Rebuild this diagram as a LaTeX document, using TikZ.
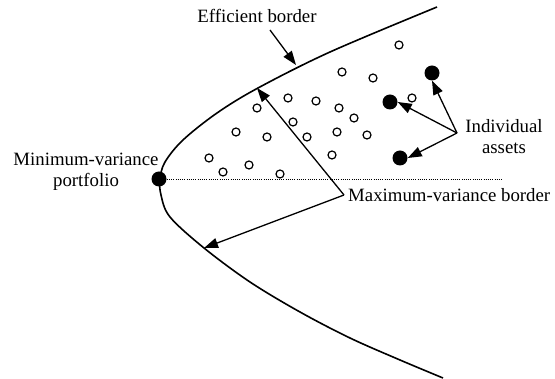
\documentclass[tikz,border=0pt]{standalone}
\usepackage{fontspec}
\setmainfont{Liberation Serif}
\usetikzlibrary{arrows.meta}
\begin{document}
\begin{tikzpicture}[x=1pt,y=-1pt,
  lbl/.style={font=\fontsize{18.8}{21}\selectfont, align=center, inner sep=0pt},
  frontier/.style={line width=1.6pt},
  ptr/.style={line width=1.3pt, -{Triangle[length=14pt,width=10pt]}},
  asset/.style={circle, fill=black, inner sep=0pt, minimum size=15pt},
  smallpt/.style={circle, draw=black, line width=1.2pt, fill=white, inner sep=0pt, minimum size=8pt}]
\useasboundingbox (0,0) rectangle (555,379);
% frontier
\draw[frontier] plot[smooth, tension=0.55] coordinates {(437,7) (330,52) (258,88) (217,113) (183,140) (165,162) (160,179) (161,195) (170,217) (204,248) (250,282) (300,312) (350,338) (400,360) (443,378)};
% dotted line
\node[asset] (mv) at (159,179) {};
\coordinate (dotend) at (503,179);
\draw[line width=0.8pt, dash pattern=on 1pt off 1.2pt] (mv.east) -- (dotend);
% small portfolios
\foreach \p/\q [count=\i] in {399/45,342/72,373/78,412/98,288/98,316/101,339/108,257/108,354/118,293/122,236/132,267/137,307/137,337/132,367/135,209/158,249/165,332/155,223/172,280/174}
  \node[smallpt] (s\i) at (\p,\q) {};
% individual assets
\node[asset] (a1) at (432,73) {};
\node[asset] (a2) at (390,102) {};
\node[asset] (a3) at (400,158) {};
% labels
\node[lbl] (eff) at (257,16) {Efficient border};
\node[lbl, anchor=west] (maxv) at (348,195) {Maximum-variance border};
\node[lbl] (ind) at (504,137) {Individual\\assets};
\node[lbl] (minv) at (86,172) {Minimum-variance\\portfolio};
% arrows
\coordinate (effs) at (270,30);
\coordinate (efft) at (296,65);
\draw[ptr] (effs) -- (efft);
\coordinate (mvv) at (344,195);
\coordinate (mvt1) at (257,88);
\coordinate (mvt2) at (204,248);
\draw[ptr] (mvv) -- (mvt1);
\draw[ptr] (mvv) -- (mvt2);
\coordinate (iv) at (457,133);
\draw[ptr] (iv) -- (a1.south);
\draw[ptr] (iv) -- (a2.east);
\draw[ptr] (iv) -- (a3.east);
\end{tikzpicture}
\end{document}
